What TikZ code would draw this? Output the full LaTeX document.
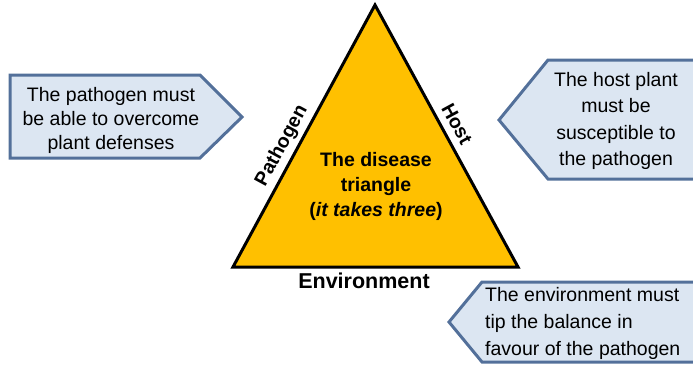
\documentclass[tikz,border=0pt]{standalone}
\usepackage{fontspec}
\setmainfont{Liberation Sans}
\definecolor{boxfill}{HTML}{DCE6F2}
\definecolor{boxline}{HTML}{53709A}
\definecolor{tri}{HTML}{FFC000}
\begin{document}
\begin{tikzpicture}[x=1pt,y=-1pt,
  arrowbox/.style={fill=boxfill,draw=boxline,line width=3pt,line join=miter},
  boxtext/.style={font=\fontsize{19.5}{24}\selectfont,align=center,inner sep=0pt},
  tritext/.style={font=\fontsize{19.5}{26}\selectfont\bfseries,align=center,inner sep=0pt},
  sidelabel/.style={font=\fontsize{19.5}{24}\selectfont\bfseries,inner sep=0pt}]
\useasboundingbox (0,0) rectangle (693,365);
% triangle
\coordinate (A) at (375,5);
\coordinate (B) at (233,267);
\coordinate (C) at (518,267);
\draw[fill=tri,line width=3pt,line join=miter] (A) -- (B) -- (C) -- cycle;
\node[tritext] (center) at (376,186) {The disease\\[-1pt]triangle\\[-1pt](\textit{it takes three})};
\node[sidelabel,rotate=61.5] (pathogen) at (282,146) {Pathogen};
\node[sidelabel,rotate=-61.5] (host) at (457,124) {Host};
\node[sidelabel,font=\fontsize{21.5}{24}\selectfont\bfseries] (env) at (364,281) {Environment};
% left box
\draw[arrowbox] (10,75) -- (200,75) -- (242,117) -- (200,158) -- (10,158) -- cycle;
\node[boxtext] (ptext) at (111,120) {The pathogen must\\be able to overcome\\plant defenses};
% right box
\draw[arrowbox] (700,60) -- (548,60) -- (499,120) -- (548,179) -- (700,179);
\node[boxtext,font=\fontsize{19.5}{26.5}\selectfont] (htext) at (616,121) {The host plant\\must be\\susceptible to\\the pathogen};
% bottom right box
\draw[arrowbox] (700,282) -- (482,282) -- (449,322) -- (482,362) -- (700,362);
\node[boxtext,align=left,anchor=west,font=\fontsize{19.5}{27}\selectfont] (etext) at (485,323) {The environment must\\tip the balance in\\favour of the pathogen};
\end{tikzpicture}
\end{document}
